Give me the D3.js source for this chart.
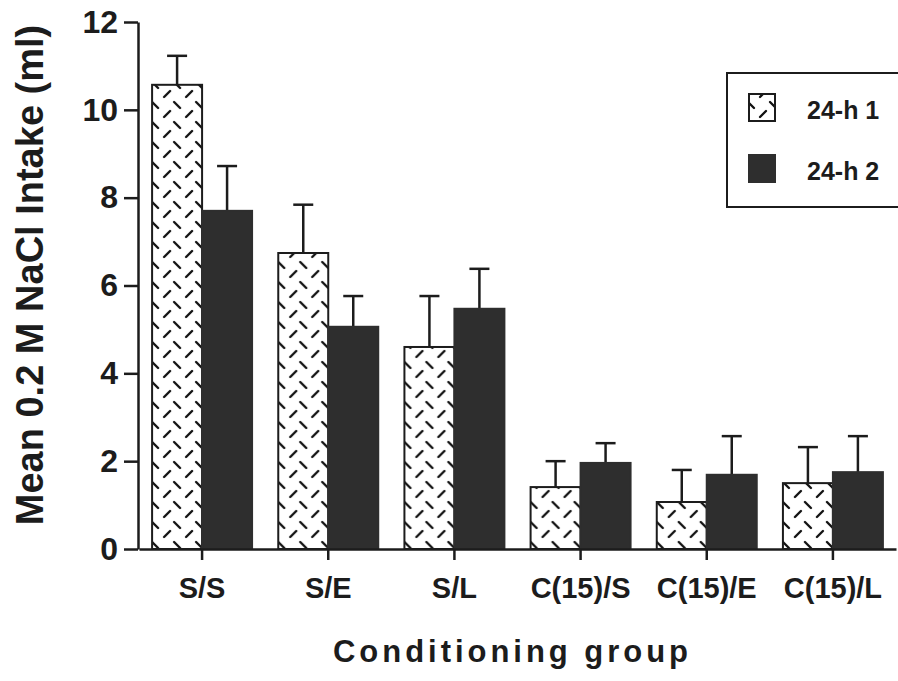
<!DOCTYPE html>
<html>
<head>
<meta charset="utf-8">
<script src="https://cdn.jsdelivr.net/npm/d3@7"></script>
<style>
  body { margin: 0; background: #fff; }
  svg { display: block; font-family: "Liberation Sans", Arial, sans-serif; font-weight: bold; }
</style>
</head>
<body>
<div id="chart"></div>
<script>
var categories = ['S/S', 'S/E', 'S/L', 'C(15)/S', 'C(15)/E', 'C(15)/L'];
var series = ['24-h 1', '24-h 2'];
var mean1 = [10.57, 6.74, 4.60, 1.41, 1.07, 1.50];
var err1  = [0.66, 1.10, 1.16, 0.59, 0.73, 0.82];
var mean2 = [7.70, 5.06, 5.47, 1.96, 1.69, 1.75];
var err2  = [1.02, 0.70, 0.91, 0.45, 0.88, 0.82];
var yTicks = [0, 2, 4, 6, 8, 10, 12];

var width = 898, height = 681;
var ink = '#1c1c1c', dark = '#2e2e2e';

var rows = categories.map(function(c, i) {
  return { cat: c, vals: [
    { s: series[0], v: mean1[i], e: err1[i] },
    { s: series[1], v: mean2[i], e: err2[i] }
  ] };
});

var svg = d3.select('#chart').append('svg')
  .attr('width', width)
  .attr('height', height);

// hatch pattern for the first 24-h test
var pat = svg.append('defs').append('pattern')
  .attr('id', 'hatch')
  .attr('patternUnits', 'userSpaceOnUse')
  .attr('x', 152)
  .attr('y', 0)
  .attr('width', 22)
  .attr('height', 20);
pat.append('rect').attr('width', 22).attr('height', 20).attr('fill', '#fff');
pat.append('path')
  .attr('d', 'M2,2L8,8M14,17L20,11')
  .attr('stroke', '#111')
  .attr('stroke-width', 2.4)
  .attr('stroke-linecap', 'round');

var x0 = d3.scaleBand()
  .domain(categories)
  .range([139, 896])
  .paddingInner(0.2076)
  .paddingOuter(0.1038);

var x1 = d3.scaleBand()
  .domain(series)
  .range([0, x0.bandwidth()]);

var y = d3.scaleLinear()
  .domain([0, 12])
  .range([549, 22]);

var fill = d3.scaleOrdinal().domain(series).range(['url(#hatch)', dark]);

// bars
var groups = svg.selectAll('g.grp')
  .data(rows)
  .enter().append('g')
    .attr('class', 'grp')
    .attr('transform', function(d) { return 'translate(' + x0(d.cat) + ',0)'; });

groups.selectAll('line.err')
  .data(function(d) { return d.vals; })
  .enter().append('line')
    .attr('class', 'err')
    .attr('x1', function(d) { return x1(d.s) + x1.bandwidth() / 2; })
    .attr('x2', function(d) { return x1(d.s) + x1.bandwidth() / 2; })
    .attr('y1', function(d) { return y(d.v); })
    .attr('y2', function(d) { return y(d.v + d.e); })
    .attr('stroke', ink)
    .attr('stroke-width', 2.5);

groups.selectAll('line.cap')
  .data(function(d) { return d.vals; })
  .enter().append('line')
    .attr('class', 'cap')
    .attr('x1', function(d) { return x1(d.s) + x1.bandwidth() / 2 - 10; })
    .attr('x2', function(d) { return x1(d.s) + x1.bandwidth() / 2 + 10; })
    .attr('y1', function(d) { return y(d.v + d.e); })
    .attr('y2', function(d) { return y(d.v + d.e); })
    .attr('stroke', ink)
    .attr('stroke-width', 2.5);

groups.selectAll('rect')
  .data(function(d) { return d.vals; })
  .enter().append('rect')
    .attr('x', function(d) { return x1(d.s); })
    .attr('y', function(d) { return y(d.v); })
    .attr('width', x1.bandwidth())
    .attr('height', function(d) { return y(0) - y(d.v); })
    .attr('fill', function(d) { return fill(d.s); })
    .attr('stroke', function(d) { return d.s === series[0] ? ink : dark; })
    .attr('stroke-width', 2);

// y axis
var yAxis = svg.append('g')
  .attr('transform', 'translate(138,0)')
  .call(d3.axisLeft(y).tickValues(yTicks).tickSize(14).tickSizeOuter(0).tickPadding(6));

// x axis
var xAxis = svg.append('g')
  .attr('transform', 'translate(0,' + y(0) + ')')
  .call(d3.axisBottom(x0).tickSize(11).tickSizeOuter(0).tickPadding(17));

svg.selectAll('.domain, .tick line')
  .attr('stroke', ink)
  .attr('stroke-width', 2.5);

yAxis.selectAll('text')
  .attr('fill', ink)
  .style('font-size', '32px')
  .style('font-weight', 'bold');

xAxis.selectAll('text')
  .attr('fill', ink)
  .style('font-size', '29px')
  .style('font-weight', 'bold');

// axis titles
svg.append('text')
  .attr('transform', 'translate(43,275) rotate(-90)')
  .attr('text-anchor', 'middle')
  .attr('fill', ink)
  .style('font-size', '38px')
  .text('Mean 0.2 M NaCl  Intake (ml)');

svg.append('text')
  .attr('x', 333)
  .attr('y', 662)
  .attr('textLength', 355)
  .attr('lengthAdjust', 'spacing')
  .attr('fill', ink)
  .style('font-size', '31px')
  .text('Conditioning group');

// legend
var legend = svg.append('g');
legend.append('rect')
  .attr('x', 727)
  .attr('y', 73)
  .attr('width', 180)
  .attr('height', 134)
  .attr('fill', '#fff')
  .attr('stroke', ink)
  .attr('stroke-width', 2);

var item = legend.selectAll('g.item')
  .data(series)
  .enter().append('g')
    .attr('class', 'item')
    .attr('transform', function(d, i) { return 'translate(0,' + (i * 61) + ')'; });

item.append('rect')
  .attr('x', 749)
  .attr('y', 94)
  .attr('width', 26)
  .attr('height', 27)
  .attr('fill', function(d) { return fill(d); })
  .attr('stroke', function(d, i) { return i === 0 ? ink : dark; })
  .attr('stroke-width', 2);

item.append('text')
  .attr('x', 807)
  .attr('y', 119)
  .attr('fill', ink)
  .style('font-size', '25px')
  .text(function(d) { return d; });
</script>
</body>
</html>
